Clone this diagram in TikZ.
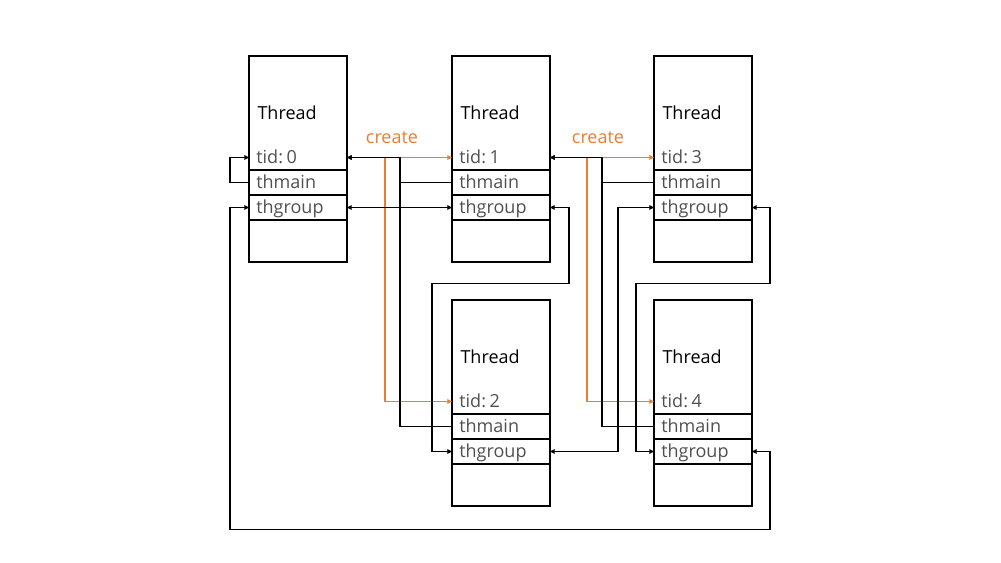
\documentclass[tikz,border=0pt]{standalone}
\usepackage{fontspec}
\setmainfont{Open Sans}
\usetikzlibrary{arrows.meta}
\definecolor{createline}{RGB}{237,125,49}
\definecolor{fieldtext}{RGB}{80,80,80}

\begin{document}
\begin{tikzpicture}[x=0.75pt, y=-0.75pt, line width=0.8pt,
        >={Triangle[length=3.5pt,width=3.5pt]}]
            \tikzstyle{thread} = [draw, anchor=north west, inner sep=0pt, outer sep=0pt,
                minimum width=73.5pt, minimum height=154.5pt]
            \tikzstyle{threadtitle} = [anchor=west, inner sep=0pt, font=\fontsize{13.5}{16}\selectfont]
            \tikzstyle{field} = [anchor=north west, outer sep=0pt, inner xsep=5.5pt, inner ysep=0pt,
                text width=62.5pt, align=left, minimum height=18.75pt,
                text height=11pt, text depth=2pt, text=fieldtext, font=\fontsize{13.5}{16}\selectfont]
            \tikzstyle{create} = [->, createline, line width=0.9pt]
            \tikzstyle{createlabel} = [text=createline, inner sep=0pt, font=\fontsize{13.5}{16}\selectfont]
            \useasboundingbox (0,0) rectangle (1001,563);

            % thread structures
            \foreach \n/\x/\y/\id in {t0/249/56/0, t1/452/56/1, t2/452/300/2, t3/654/56/3, t4/654/300/4} {
                \node[thread] (\n) at (\x,\y) {};
                \node[threadtitle] (\n-title) at (\x+8,\y+57) {Thread};
                \node[field] (\n-tid) at (\x,\y+89) {tid:\hspace{0.2em}\id};
                \node[field, draw] (\n-main) at (\x,\y+114) {thmain};
                \node[field, draw] (\n-grp) at (\x,\y+139) {thgroup};
            }

            % create
            \draw[create] (t0-tid.east) -- (t1-tid.west);
            \draw[create] (t0-tid.east) -- ++(38,0) |- (t2-tid.west);
            \draw[create] (t1-tid.east) -- (t3-tid.west);
            \draw[create] (t1-tid.east) -- ++(37,0) |- (t4-tid.west);
            \node[createlabel] (c0) at (392,138) {create};
            \node[createlabel] (c1) at (598,138) {create};

            % thmain
            \draw[->] (t0-main.west) -- ++(-19,0) |- (t0-tid.west);
            \draw[->] (t1-main.west) -- ++(-52,0) |- (t0-tid.east);
            \draw[->] (t2-main.west) -- ++(-52,0) |- (t0-tid.east);
            \draw[->] (t3-main.west) -- ++(-52,0) |- (t1-tid.east);
            \draw[->] (t4-main.west) -- ++(-52,0) |- (t1-tid.east);

            % thgroup
            \draw[<->] (t0-grp.east) -- (t1-grp.west);
            \draw[<->] (t1-grp.east) -- ++(19,0) -- ++(0,76) -| ([xshift=-15pt]t2-grp.west) -- (t2-grp.west);
            \draw[<->] (t2-grp.east) -- ++(68,0) |- (t3-grp.west);
            \draw[<->] (t3-grp.east) -- ++(18,0) -- ++(0,76) -| ([xshift=-13.5pt]t4-grp.west) -- (t4-grp.west);
            \draw[<->] (t4-grp.east) -- ++(18,0) -- ++(0,78) -| ([xshift=-14.25pt]t0-grp.west) -- (t0-grp.west);
        \end{tikzpicture}
\end{document}
